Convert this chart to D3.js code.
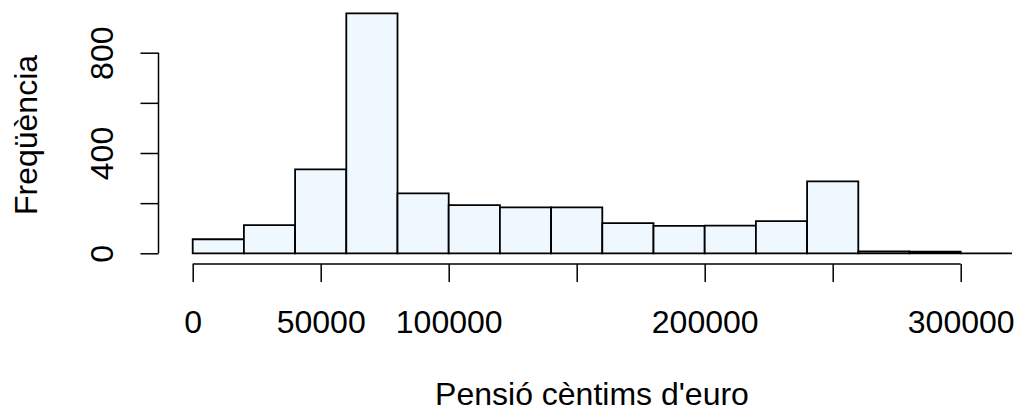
<!DOCTYPE html>
<html>
<head>
<meta charset="utf-8">
<script src="https://cdn.jsdelivr.net/npm/d3@7"></script>
<style>
  html, body { margin: 0; padding: 0; background: #fff; }
  svg { display: block; }
  text { font-family: "Liberation Sans", Arial, sans-serif; fill: #000; }
</style>
</head>
<body>
<svg id="chart" width="1017" height="414"></svg>
<script>
// Histogram bins (lower edges, width 20000) and counts
const binStarts = [0, 20000, 40000, 60000, 80000, 100000, 120000, 140000,
                   160000, 180000, 200000, 220000, 240000, 260000, 280000, 300000];
const binWidth = 20000;
const counts = [56, 112, 335, 957, 239, 192, 183, 183,
                120, 109, 110, 128, 287, 8, 7, 0];

const xTicks = [0, 50000, 100000, 150000, 200000, 250000, 300000];
const xTickLabels = ["0", "50000", "100000", "", "200000", "", "300000"];
const yTicks = [0, 200, 400, 600, 800];
const yTickLabels = ["0", "", "400", "", "800"];

const xTitle = "Pensió cèntims d'euro";
const yTitle = "Freqüència";

const svg = d3.select("#chart");
const fontSize = 32;

const x = d3.scaleLinear().domain([0, 300000]).range([192.7, 960.7]);
const y = d3.scaleLinear().domain([0, 800]).range([253.3, 52.7]);

// Bars as closed outlines, so empty bins still show their base edge
svg.append("g")
  .selectAll("path")
  .data(binStarts.map((s, i) => ({ s, c: counts[i] })))
  .join("path")
  .attr("d", d => {
    const x0 = x(d.s), x1 = x(d.s + binWidth);
    const y0 = y(0), y1 = y(d.c);
    return `M${x0},${y0}V${y1}H${x1}V${y0}Z`;
  })
  .attr("fill", "#f0f8ff")
  .attr("stroke", "#000")
  .attr("stroke-width", 1.8)
  .attr("stroke-linejoin", "miter");

// X axis
const xAxis = d3.axisBottom(x)
  .tickValues(xTicks)
  .tickSize(18)
  .tickPadding(0)
  .tickFormat((d, i) => xTickLabels[i]);

const gx = svg.append("g")
  .attr("transform", "translate(0,264)")
  .call(xAxis);
gx.select(".domain").attr("d", `M${x(0)},0H${x(300000)}`)
  .attr("stroke", "#000").attr("stroke-width", 1.5);
gx.selectAll(".tick line").attr("stroke", "#000").attr("stroke-width", 1.5);
gx.selectAll(".tick text")
  .attr("font-size", fontSize)
  .attr("font-family", "Liberation Sans, Arial, sans-serif")
  .attr("y", 69)
  .attr("dy", null);

// Y axis
const yAxis = d3.axisLeft(y)
  .tickValues(yTicks)
  .tickSize(18)
  .tickFormat((d, i) => yTickLabels[i]);

const gy = svg.append("g")
  .attr("transform", "translate(158.5,0)")
  .call(yAxis);
gy.select(".domain").attr("d", `M0,${y(0)}V${y(800)}`)
  .attr("stroke", "#000").attr("stroke-width", 1.5);
gy.selectAll(".tick line").attr("stroke", "#000").attr("stroke-width", 1.5);
gy.selectAll(".tick text")
  .attr("font-size", fontSize)
  .attr("font-family", "Liberation Sans, Arial, sans-serif")
  .attr("text-anchor", "middle")
  .attr("x", null)
  .attr("dy", null)
  .attr("transform", "translate(-45.5,0) rotate(-90)");

// Axis titles
svg.append("text")
  .attr("x", 592)
  .attr("y", 405)
  .attr("text-anchor", "middle")
  .attr("font-size", fontSize)
  .text(xTitle);

svg.append("text")
  .attr("transform", "translate(37,135) rotate(-90)")
  .attr("text-anchor", "middle")
  .attr("font-size", fontSize)
  .text(yTitle);
</script>
</body>
</html>
